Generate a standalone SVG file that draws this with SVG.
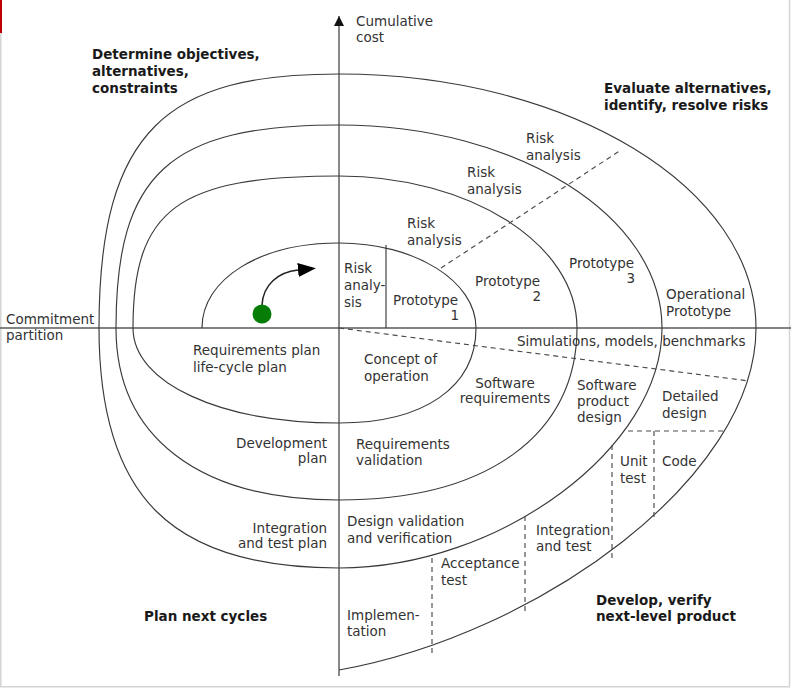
<svg xmlns="http://www.w3.org/2000/svg" width="791" height="688" viewBox="0 0 791 688">
<style>
text{font-family:"DejaVu Sans","Liberation Sans",sans-serif;font-size:13.5px;fill:#333}
.b{font-weight:bold;fill:#1a1a1a}
.e{text-anchor:end}
.m{text-anchor:middle}
.sp{fill:none;stroke:#3a3a3a;stroke-width:1.15}
.ds{fill:none;stroke:#4a4a4a;stroke-width:1.15;stroke-dasharray:5,4}
</style>
<defs>
<marker id="ah" markerUnits="userSpaceOnUse" markerWidth="10" markerHeight="10" refX="10" refY="5" orient="auto"><path d="M0,0 L10,5 L0,10 z" fill="#111"/></marker>
<marker id="ah2" markerUnits="userSpaceOnUse" markerWidth="18" markerHeight="14" refX="0" refY="7" orient="auto"><path d="M0,0 L18,7 L0,14 z" fill="#000"/></marker>
</defs>
<rect x="0" y="0" width="791" height="688" fill="#fff"/>
<g id="frame" stroke="#d4d4d4" stroke-width="1.5" fill="none">
<path d="M0.8,33 V686.8 H789.5 V0"/>
</g>
<rect x="0" y="0" width="2" height="33" fill="#c00000"/>
<g id="connectors">
<line x1="0" y1="328" x2="791" y2="328" stroke="#5a5a5a" stroke-width="1.6"/>
<line x1="339" y1="676" x2="339" y2="16" stroke="#3a3a3a" stroke-width="1.2" marker-end="url(#ah)"/>
<path class="sp" d="M202,328 C202,279 260,243 339,243 C415,243 476,281 476,328 C476,387 424,423 339,423 C220,423 133,383 133,328 C133,209 178,176 339,176 C470,176 577,244 577,328 C577,435 487,500 339,500 C198,500 116,436 116,328 C116,174 169,125 339,125 C517,125 662,216 662,328 C662,448 500,568 339,568 C171,568 99,496 99,328 C99,128 169,74 339,74 C569,74 756,188 756,328 C756,478 539,634 339,670"/>
<line x1="386" y1="245" x2="386" y2="328" stroke="#3a3a3a" stroke-width="1.15"/>
<line class="ds" x1="441" y1="268" x2="621" y2="150"/>
<line class="ds" x1="339" y1="328" x2="749" y2="381"/>
<line class="ds" x1="628" y1="431" x2="724" y2="431"/>
<line class="ds" x1="654" y1="431" x2="654" y2="521"/>
<line class="ds" x1="612" y1="445" x2="612" y2="558"/>
<line class="ds" x1="525" y1="516" x2="525" y2="611"/>
<line class="ds" x1="432" y1="558" x2="432" y2="653"/>
<path d="M262,305 C263,285 278,272 298,270" fill="none" stroke="#222" stroke-width="1.5" marker-end="url(#ah2)"/>
</g>
<g id="start"><circle cx="262" cy="314" r="9.5" fill="#067d06"/></g>
<g id="axis-cost"><text x="356" y="26">Cumulative</text><text x="356" y="42">cost</text></g>
<g id="axis-commit"><text x="6" y="324">Commitment</text><text x="6" y="340">partition</text></g>
<g id="q-determine"><text class="b" x="92" y="59">Determine objectives,</text><text class="b" x="92" y="76">alternatives,</text><text class="b" x="92" y="93">constraints</text></g>
<g id="q-evaluate"><text class="b" x="604" y="93">Evaluate alternatives,</text><text class="b" x="604" y="110">identify, resolve risks</text></g>
<g id="q-develop"><text class="b" x="596" y="605">Develop, verify</text><text class="b" x="596" y="621">next-level product</text></g>
<g id="q-plan"><text class="b" x="144" y="621">Plan next cycles</text></g>
<g id="risk4"><text x="526" y="143">Risk</text><text x="526" y="160">analysis</text></g>
<g id="risk3"><text x="467" y="177">Risk</text><text x="467" y="194">analysis</text></g>
<g id="risk2"><text x="407" y="228">Risk</text><text x="407" y="245">analysis</text></g>
<g id="risk1"><text x="344" y="273">Risk</text><text x="344" y="290">analy-</text><text x="344" y="307">sis</text></g>
<g id="proto1"><text x="393" y="305">Prototype</text><text class="e" x="459" y="320">1</text></g>
<g id="proto2"><text x="475" y="286">Prototype</text><text class="e" x="541" y="301">2</text></g>
<g id="proto3"><text x="569" y="268">Prototype</text><text class="e" x="635" y="283">3</text></g>
<g id="opproto"><text x="666" y="299">Operational</text><text x="666" y="316">Prototype</text></g>
<g id="sim"><text x="517" y="346">Simulations, models, benchmarks</text></g>
<g id="reqplan"><text x="193" y="355">Requirements plan</text><text x="193" y="372">life-cycle plan</text></g>
<g id="concept"><text x="364" y="364">Concept of</text><text x="364" y="381">operation</text></g>
<g id="swreq"><text class="m" x="505" y="388">Software</text><text class="m" x="505" y="403">requirements</text></g>
<g id="swprod"><text x="577" y="390">Software</text><text x="577" y="406">product</text><text x="577" y="422">design</text></g>
<g id="detail"><text x="662" y="401">Detailed</text><text x="662" y="418">design</text></g>
<g id="devplan"><text class="e" x="327" y="448">Development</text><text class="e" x="327" y="463">plan</text></g>
<g id="reqval"><text x="356" y="449">Requirements</text><text x="356" y="465">validation</text></g>
<g id="unit"><text x="620" y="466">Unit</text><text x="620" y="483">test</text></g>
<g id="code"><text x="662" y="466">Code</text></g>
<g id="intplan"><text class="e" x="327" y="533">Integration</text><text class="e" x="327" y="548">and test plan</text></g>
<g id="desval"><text x="347" y="526">Design validation</text><text x="347" y="543">and verification</text></g>
<g id="inttest"><text x="536" y="535">Integration</text><text x="536" y="551">and test</text></g>
<g id="accept"><text x="441" y="568">Acceptance</text><text x="441" y="585">test</text></g>
<g id="impl"><text x="347" y="620">Implemen-</text><text x="347" y="636">tation</text></g>
</svg>
